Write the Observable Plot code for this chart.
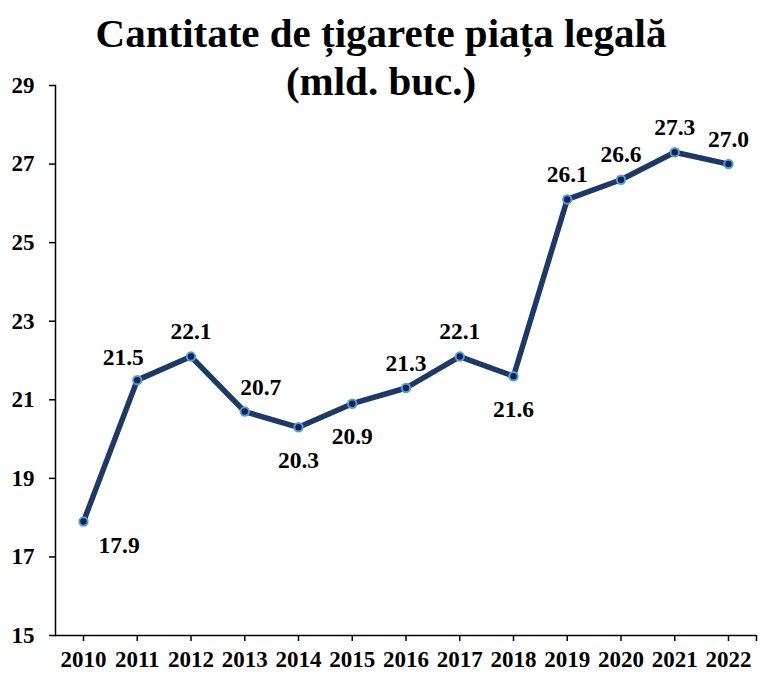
<!DOCTYPE html>
<html>
<head>
<meta charset="utf-8">
<script src="https://cdn.jsdelivr.net/npm/d3@7"></script>
<script src="https://cdn.jsdelivr.net/npm/@observablehq/plot@0.6"></script>
<style>
  html, body { margin: 0; padding: 0; background: #fff; }
  #wrap { position: relative; width: 762px; height: 673px; }
  #title {
    position: absolute; left: 0; top: 9px; width: 762px;
    text-align: center; font-family: "Liberation Serif", "Times New Roman", serif;
    font-weight: bold; font-size: 41px; line-height: 48px; color: #000;
    pointer-events: none;
  }
  #chart { position: absolute; left: 0; top: 0; }
</style>
</head>
<body>
<div id="wrap">
  <div id="chart"></div>
  <div id="title">Cantitate de țigarete piața legală<br>(mld. buc.)</div>
</div>
<script>
const years = ["2010","2011","2012","2013","2014","2015","2016","2017","2018","2019","2020","2021","2022"];
const values = [17.9, 21.5, 22.1, 20.7, 20.3, 20.9, 21.3, 22.1, 21.6, 26.1, 26.6, 27.3, 27.0];
const yTicks = [15, 17, 19, 21, 23, 25, 27, 29];
// label placement relative to each point (annotation style)
const labelSide = ["belowRight","aboveLeft","above","aboveRight","below","below","above","above","below","above","above","above","above"];

const offsets = {
  above: {dx: 0, dy: -25, anchor: "middle"},
  below: {dx: 0, dy: 33, anchor: "middle"},
  aboveLeft: {dx: -14, dy: -23, anchor: "middle"},
  aboveRight: {dx: 16, dy: -24, anchor: "middle"},
  belowRight: {dx: 15, dy: 24, anchor: "start"}
};

const data = years.map((y, i) => ({year: y, value: values[i], side: labelSide[i]}));
const font = "'Liberation Serif', 'Times New Roman', serif";

const labelMarks = Object.keys(offsets).map(k => Plot.text(data.filter(d => d.side === k), {
  x: "year", y: "value", text: d => d.value.toFixed(1),
  dx: offsets[k].dx, dy: offsets[k].dy, textAnchor: offsets[k].anchor,
  lineAnchor: "middle", fontSize: 23.5, fontWeight: "bold", fontFamily: font, fill: "#000"
}));

const chart = Plot.plot({
  width: 762,
  height: 673,
  marginLeft: 55,
  marginRight: 6,
  marginTop: 85,
  marginBottom: 38,
  style: {fontFamily: font, background: "#fff", overflow: "visible"},
  x: {type: "point", domain: years, padding: 0.521, align: 0.5, round: false},
  y: {domain: [15, 29]},
  marks: [
    Plot.axisY({ticks: yTicks, tickSize: 6, tickPadding: 15, fontSize: 23, fontWeight: "bold", fontFamily: font, stroke: "#000", strokeWidth: 1.5, label: null, color: "#000"}),
    Plot.axisX({tickSize: 6, tickPadding: 9, fontSize: 23, fontWeight: "bold", fontFamily: font, stroke: "#000", strokeWidth: 1.5, label: null, color: "#000"}),
    Plot.frame({anchor: "left", stroke: "#000", strokeWidth: 1.5}),
    Plot.ruleY([15], {stroke: "#000", strokeWidth: 1.5}),
    Plot.ruleX([years[years.length - 1]], {y1: 15, y2: 15, dx: 28, insetBottom: -6, stroke: "#000", strokeWidth: 1.5}),
    Plot.line(data, {x: "year", y: "value", stroke: "#1f3864", strokeWidth: 5.5, strokeLinejoin: "round"}),
    Plot.dot(data, {x: "year", y: "value", r: 4.2, fill: "#0b2452", stroke: "#5b9bd5", strokeWidth: 2}),
    ...labelMarks
  ]
});
document.getElementById("chart").appendChild(chart);
</script>
</body>
</html>
